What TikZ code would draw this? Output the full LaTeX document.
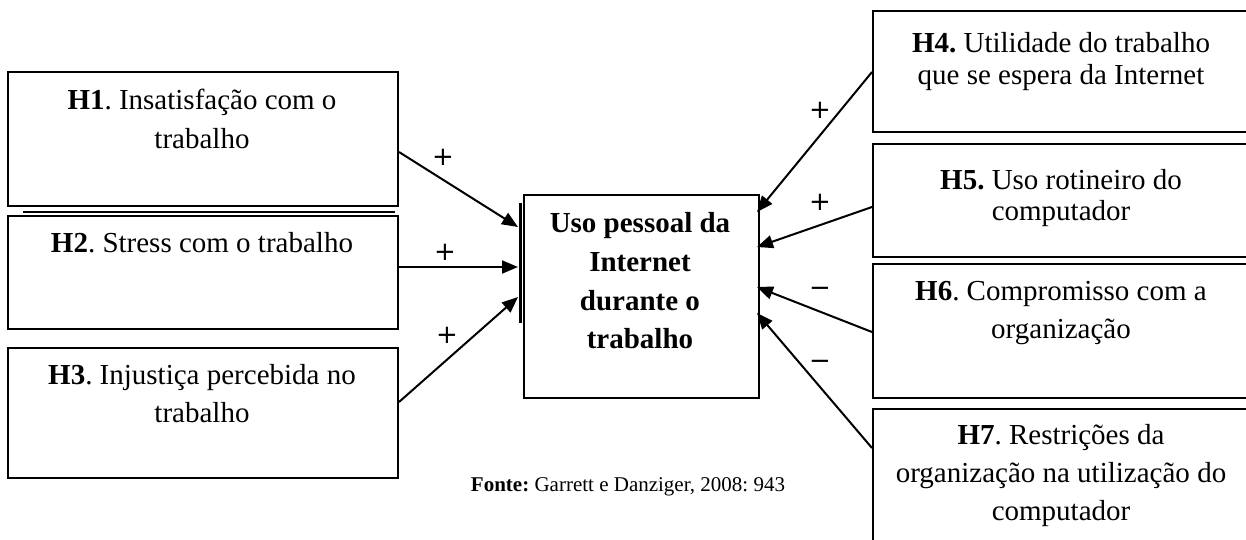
\documentclass[tikz,border=0pt]{standalone}
\usepackage{fontspec}
\setmainfont{Liberation Serif}
\newfontfamily\signfont{DejaVu Sans}
\usetikzlibrary{arrows.meta}
\begin{document}
\frenchspacing
\begin{tikzpicture}[x=1pt,y=-1pt,
  box/.style={draw, line width=2pt, inner sep=0pt, anchor=north west},
  lbox/.style={box, minimum width=390pt},
  rbox/.style={box, minimum width=385pt},
  txt/.style={align=center, inner sep=0pt, font=\fontsize{29}{#1}\selectfont},
  sign/.style={inner sep=0pt, font=\signfont\fontsize{26}{26}\selectfont},
  arr/.style={line width=2pt, -{Triangle[length=16pt,width=13pt]}}
]
\clip (0,0) rectangle (1246,539);
\fill[white] (0,0) rectangle (1246,539);
% left boxes
\node[lbox, minimum height=134pt] (h1) at (7,71) {};
\node[lbox, minimum height=113pt] (h2) at (7,215) {};
\node[lbox, minimum height=130pt] (h3) at (7,347) {};
\draw[line width=2.5pt] (23,212) -- (395,212);
\node[txt=39] (t1) at (202,119) {\textbf{H1}. Insatisfação com o\\trabalho};
\node[txt=39] (t2) at (202,243) {\textbf{H2}. Stress com o trabalho};
\node[txt=38] (t3) at (202,394) {\textbf{H3}. Injustiça percebida no\\trabalho};
% centre box
\node[box, minimum width=235pt, minimum height=203pt] (c) at (523,194) {};
\fill (518.5,203) rectangle (522,323);
\node[txt=38.7, font=\fontsize{29}{38.7}\selectfont\bfseries] (ct) at (640,281)
  {Uso pessoal da\\Internet\\durante o\\trabalho};
% right boxes
\node[rbox, minimum height=121pt] (h4) at (872,10) {};
\node[rbox, minimum height=113pt] (h5) at (872,143) {};
\node[rbox, minimum height=134pt] (h6) at (872,263) {};
\node[rbox, minimum height=150pt] (h7) at (872,408) {};
\node[txt=32] (t4) at (1061,62) {\textbf{H4.} Utilidade do trabalho\\que se espera da Internet};
\node[txt=31] (t5) at (1061,198) {\textbf{H5.} Uso rotineiro do\\computador};
\node[txt=38] (t6) at (1061,313) {\textbf{H6}. Compromisso com a\\organização};
\node[txt=38] (t7) at (1061,476) {\textbf{H7}. Restrições da\\organização na utilização do\\computador};
% arrows left
\draw[arr] (h1.east |- 0,152) -- (518,227);
\draw[arr] (h2.east |- 0,267) -- (518,267);
\draw[arr] (h3.east |- 0,402) -- (518,297);
% arrows right
\draw[arr] (h4.west |- 0,72) -- (757,212);
\draw[arr] (h5.west |- 0,207) -- (757,247);
\draw[arr] (h6.west |- 0,332) -- (757,287);
\draw[arr] (h7.west |- 0,448) -- (757,313);
% signs
\node[sign] (s1) at (443,157) {+};
\node[sign] (s2) at (445,252) {+};
\node[sign] (s3) at (447,335) {+};
\node[sign] (s4) at (820,110) {+};
\node[sign] (s5) at (820,202) {+};
\node[sign] (s6) at (820,292) {−};
\node[sign] (s7) at (820,365) {−};
% source
\node[inner sep=0pt, font=\fontsize{21}{21}\selectfont] (fonte) at (628,487)
  {\textbf{Fonte:} Garrett e Danziger, 2008: 943};
\end{tikzpicture}
\end{document}
